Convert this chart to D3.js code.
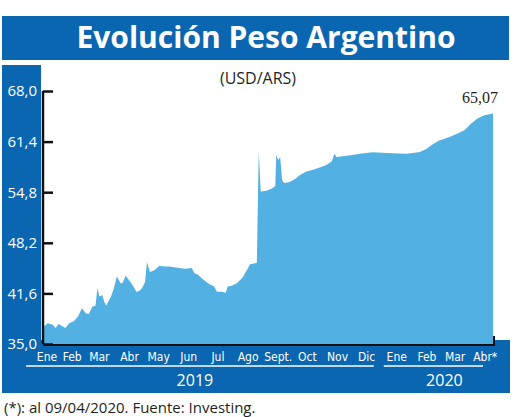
<!DOCTYPE html>
<meta charset="utf-8">
<script src="https://d3js.org/d3.v7.min.js"></script>
<style>
  body { margin: 0; background: #fff; }
  text { font-family: "Open Sans", sans-serif; }
</style>
<div id="chart"></div>
<script>
// tipo de cambio USD/ARS
var dates = ["2019-01-02","2019-01-07","2019-01-12","2019-01-15","2019-01-18","2019-01-22","2019-01-25","2019-01-29",
  "2019-02-03","2019-02-07","2019-02-11","2019-02-15","2019-02-18","2019-02-22","2019-02-25","2019-02-27",
  "2019-03-01","2019-03-04","2019-03-06","2019-03-08","2019-03-13","2019-03-16","2019-03-19","2019-03-23","2019-03-25","2019-03-28",
  "2019-04-02","2019-04-06","2019-04-08","2019-04-11","2019-04-14","2019-04-17","2019-04-19","2019-04-22","2019-04-26",
  "2019-05-02","2019-05-07","2019-05-12","2019-05-22","2019-05-28",
  "2019-06-04","2019-06-07","2019-06-10","2019-06-14","2019-06-19","2019-06-24","2019-06-27","2019-06-30",
  "2019-07-05","2019-07-09","2019-07-11","2019-07-15","2019-07-20","2019-07-26","2019-07-31",
  "2019-08-03","2019-08-07","2019-08-10","2019-08-12","2019-08-14","2019-08-20","2019-08-26","2019-08-29","2019-08-30",
  "2019-09-01","2019-09-03","2019-09-05","2019-09-07","2019-09-12","2019-09-18","2019-09-23","2019-09-30",
  "2019-10-06","2019-10-13","2019-10-20","2019-10-26","2019-10-29","2019-10-31",
  "2019-11-06","2019-11-13","2019-11-24","2019-12-07","2019-12-22",
  "2020-01-04","2020-01-11","2020-01-17","2020-01-24","2020-01-31",
  "2020-02-06","2020-02-13","2020-02-20","2020-02-26",
  "2020-03-04","2020-03-11","2020-03-17","2020-03-24","2020-03-31","2020-04-09"];
var values = [37.2,37.7,37.5,37.1,37.6,37.3,37.1,37.7,
  38.0,38.6,39.65,39.0,38.9,39.9,40.0,42.3,
  41.2,41.4,40.5,40.0,41.2,42.3,43.8,42.9,43.0,43.9,
  43.1,42.3,41.8,41.9,42.3,43.1,45.7,44.4,44.6,
  45.2,45.1,45.1,44.9,44.8,
  44.9,44.2,44.1,43.6,43.1,42.7,42.5,41.8,
  41.8,41.7,42.5,42.6,42.9,43.6,44.7,
  45.4,45.5,45.6,60.1,54.9,55.0,55.3,55.6,59.65,
  59.0,59.4,56.4,56.0,56.1,56.5,57.0,57.5,
  57.7,58.0,58.3,58.8,59.8,59.4,
  59.5,59.6,59.8,60.0,59.9,
  59.85,59.8,59.9,60.0,60.4,
  60.95,61.5,61.8,62.1,
  62.5,62.9,63.7,64.4,64.85,65.07];

var yTicks = [35.0, 41.6, 48.2, 54.8, 61.4, 68.0];
var monthLabels = ["Ene","Feb","Mar","Abr","May","Jun","Jul","Ago","Sept.","Oct","Nov","Dic","Ene","Feb","Mar","Abr*"];
var monthDates = ["2019-01-01","2019-02-01","2019-03-01","2019-04-01","2019-05-01","2019-06-01","2019-07-01","2019-08-01",
  "2019-09-01","2019-10-01","2019-11-01","2019-12-01","2020-01-01","2020-02-01","2020-03-01","2020-04-01"];
var years = ["2019", "2020"];
var yearStart = ["2019-01-01", "2020-01-01"];
var yearEnd = ["2019-12-31", "2020-04-09"];
var lastLabel = "65,07";

var W = 520, H = 417;
var parse = d3.timeParse("%Y-%m-%d");
var data = dates.map(function(d, i) { return {date: parse(d), value: values[i]}; });

var svg = d3.select("#chart").append("svg")
  .attr("width", W).attr("height", H);

var pLeft = 43, pRight = 493, pTop = 91, pBottom = 344;

var x = d3.scaleTime()
  .domain([parse(dates[0]), parse(dates[dates.length - 1])])
  .range([pLeft, pRight]);
var y = d3.scaleLinear()
  .domain([35, 68])
  .range([pBottom, pTop]);

var dark = "#0a66b0", light = "#52b1e2";

// title banner
svg.append("rect").attr("x", 2).attr("y", 16).attr("width", 507).attr("height", 44).attr("fill", dark);
svg.append("text")
  .attr("x", 266).attr("y", 48)
  .attr("text-anchor", "middle")
  .attr("fill", "#fff")
  .style("font-size", "30px").style("font-weight", "bold")
  .text("Evolución Peso Argentino");

// blue frame: left column and bottom band
svg.append("rect").attr("x", 2).attr("y", 65).attr("width", 39).attr("height", 328).attr("fill", dark);
svg.append("rect").attr("x", 2).attr("y", 340).attr("width", 508).attr("height", 53).attr("fill", dark);

// plot area with small shadow
svg.append("rect").attr("x", pLeft).attr("y", 336).attr("width", pRight - pLeft + 2).attr("height", pBottom - 336 + 2).attr("fill", "#111");
svg.append("rect").attr("x", pLeft).attr("y", 65).attr("width", pRight - pLeft).attr("height", pBottom - 65).attr("fill", "#fff");

svg.append("text")
  .attr("x", 258).attr("y", 84)
  .attr("text-anchor", "middle")
  .attr("fill", "#231f20")
  .style("font-size", "16px")
  .text("(USD/ARS)");

var area = d3.area()
  .x(function(d) { return x(d.date); })
  .y0(y(35))
  .y1(function(d) { return y(d.value); });

svg.append("path")
  .datum(data)
  .attr("fill", light)
  .attr("d", area);

// y axis
var yAxis = svg.append("g")
  .attr("transform", "translate(" + pLeft + ",0)")
  .call(d3.axisLeft(y).tickValues(yTicks).tickSize(-10).tickPadding(6)
    .tickFormat(function(d) { return d3.format(".1f")(d).replace(".", ","); }));
yAxis.select(".domain").attr("stroke", "#111").attr("stroke-width", 2.5)
  .attr("d", "M0," + y(68) + "V" + pBottom);
yAxis.selectAll(".tick line").attr("stroke", "#111").attr("stroke-width", 2.5);
yAxis.selectAll(".tick text").attr("fill", "#fff")
  .style("font-family", "'Open Sans', sans-serif").style("font-size", "15px");

// last value
var last = data[data.length - 1];
svg.append("text")
  .attr("x", x(last.date) - 13).attr("y", y(last.value) - 10)
  .attr("text-anchor", "middle")
  .attr("fill", "#231f20")
  .style("font-family", "'Liberation Serif', serif").style("font-size", "16px")
  .text(lastLabel);

// months
svg.append("g").selectAll("text")
  .data(monthLabels)
  .enter().append("text")
    .attr("x", function(d, i) { return Math.max(x(parse(monthDates[i])), 47); })
    .attr("y", 361)
    .attr("text-anchor", "middle")
    .attr("fill", "#fff")
    .style("font-family", "'DejaVu Sans Condensed', 'DejaVu Sans', sans-serif")
    .style("font-stretch", "condensed")
    .style("font-size", "12px")
    .text(function(d) { return d; });

// years
var yearLines = years.map(function(d, i) {
  return {label: d, x0: x(parse(yearStart[i])) - (i == 0 ? 16 : 13), x1: x(parse(yearEnd[i])) - (i == 0 ? 22 : 10)};
});
svg.append("g").selectAll("line")
  .data(yearLines)
  .enter().append("line")
    .attr("x1", function(d) { return d.x0; })
    .attr("x2", function(d) { return d.x1; })
    .attr("y1", 366).attr("y2", 366)
    .attr("stroke", "#fff").attr("stroke-width", 1.5);
svg.append("g").selectAll("text")
  .data(yearLines)
  .enter().append("text")
    .attr("x", function(d, i) { return (d.x0 + d.x1) / 2 + (i == 0 ? -5 : 11); })
    .attr("y", 386)
    .attr("text-anchor", "middle")
    .attr("fill", "#fff")
    .style("font-size", "16px")
    .text(function(d) { return d.label; });

// source
svg.append("text")
  .attr("x", 4).attr("y", 413)
  .attr("fill", "#231f20")
  .style("font-size", "15px")
  .text("(*): al 09/04/2020. Fuente: Investing.");
</script>
